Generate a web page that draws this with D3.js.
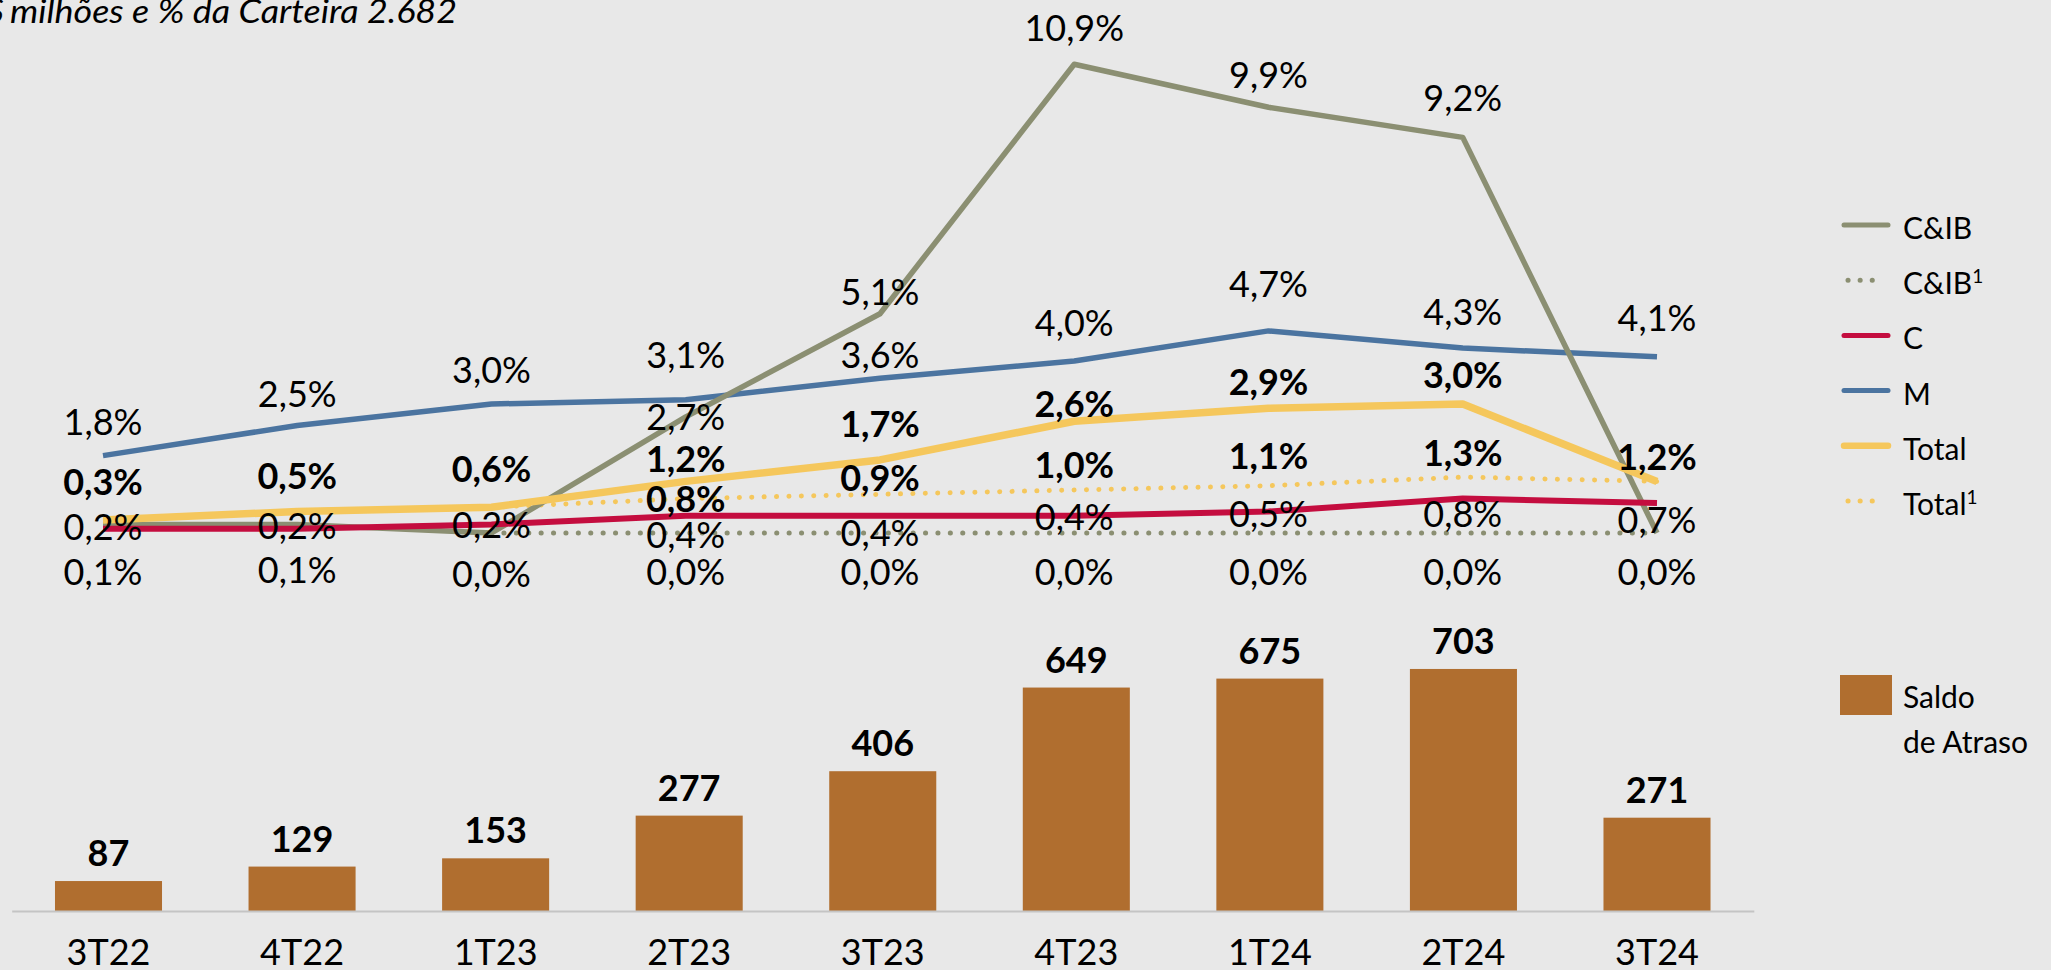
<!DOCTYPE html>

<head>
    <meta charset="utf-8">
    <style>
        body { margin: 0; background: #e8e8e8; }
        svg { display: block; }
        text { font-family: Lato, "Open Sans", sans-serif; fill: #000; }
    </style>
</head>

<body>
    <div id="graph"></div>
    <script src="https://d3js.org/d3.v7.min.js"></script>

    <script>
        // dimensions of the picture
        const WIDTH = 2051;
        const HEIGHT = 970;

        // data
        const categorias = ["3T22", "4T22", "1T23", "2T23", "3T23", "4T23", "1T24", "2T24", "3T24"];
        const saldoAtraso = [87, 129, 153, 277, 406, 649, 675, 703, 271];
        const cib = [0.2, 0.2, 0.0, 2.7, 5.1, 10.9, 9.9, 9.2, 0.0];
        const cib1 = [null, null, 0.0, 0.0, 0.0, 0.0, 0.0, 0.0, 0.0];
        const c = [0.1, 0.1, 0.2, 0.4, 0.4, 0.4, 0.5, 0.8, 0.7];
        const m = [1.8, 2.5, 3.0, 3.1, 3.6, 4.0, 4.7, 4.3, 4.1];
        const total = [0.3, 0.5, 0.6, 1.2, 1.7, 2.6, 2.9, 3.0, 1.2];
        const total1 = [null, null, 0.6, 0.8, 0.9, 1.0, 1.1, 1.3, 1.2];

        // label placement (baseline offset from the point, null = no label)
        const dyCib = [16, 15, 54, 13, -9, -23, -19, -26, null];
        const dyCib1 = [null, null, null, 52, 52, 52, 52, 52, 52];
        const dyC = [56, 54, 14, 32, 30, 14, 15, 28, 30];
        const dyM = [-21, -19, -21, -32, -10, -25, -34, -23, -26];
        const dyTotal = [-25, -23, -25, -9, -23, -4, -13, -16, null];
        const dyTotal1 = [null, null, null, 13, -3, -12, -17, -11, -11];

        const COR_CIB = "#8b8f72";
        const COR_C = "#c40d3f";
        const COR_M = "#4b74a0";
        const COR_TOTAL = "#f5c75c";
        const COR_BARRA = "#b06e2f";

        // series in drawing order
        const series = [
            { nome: "C&IB", sup: "1", valores: cib1, cor: COR_CIB, largura: 5, pontilhado: true, negrito: false, dy: dyCib1, leg: 1 },
            { nome: "Total", sup: "1", valores: total1, cor: COR_TOTAL, largura: 5, pontilhado: true, negrito: true, dy: dyTotal1, leg: 5 },
            { nome: "M", sup: "", valores: m, cor: COR_M, largura: 5.5, pontilhado: false, negrito: false, dy: dyM, leg: 3 },
            { nome: "C&IB", sup: "", valores: cib, cor: COR_CIB, largura: 5.5, pontilhado: false, negrito: false, dy: dyCib, leg: 0 },
            { nome: "C", sup: "", valores: c, cor: COR_C, largura: 6, pontilhado: false, negrito: false, dy: dyC, leg: 2 },
            { nome: "Total", sup: "", valores: total, cor: COR_TOTAL, largura: 7.5, pontilhado: false, negrito: true, dy: dyTotal, leg: 4 }
        ];

        const svg = d3.select("#graph")
            .append("svg")
            .attr("width", WIDTH)
            .attr("height", HEIGHT);

        // escalas
        const xBarra = d3.scaleBand()
            .domain(categorias)
            .range([11.7, 1753.8])
            .paddingInner(0.447)
            .paddingOuter(0.2236);

        const xLinha = d3.scalePoint()
            .domain(categorias)
            .range([103, 1657]);

        const yBarra = d3.scaleLinear()
            .domain([0, 800])
            .range([911, 911 - 800 * 0.3443]);

        const yPct = d3.scaleLinear()
            .domain([0, 12])
            .range([533, 533 - 12 * 43]);

        const fmtPct = v => d3.format(".1f")(v).replace(".", ",") + "%";

        // titulo (cortado à esquerda como no original)
        svg.append("text")
            .attr("x", 4)
            .attr("y", 23)
            .attr("text-anchor", "end")
            .attr("font-size", 32)
            .attr("font-style", "italic")
            .text("R$");
        svg.append("text")
            .attr("x", 10)
            .attr("y", 23)
            .attr("font-size", 32)
            .attr("font-style", "italic")
            .attr("textLength", 447)
            .attr("lengthAdjust", "spacingAndGlyphs")
            .text("milhões e % da Carteira 2.682");

        // barras
        svg.selectAll("rect.barra")
            .data(saldoAtraso)
            .enter()
            .append("rect")
            .attr("class", "barra")
            .attr("x", (d, i) => xBarra(categorias[i]))
            .attr("y", d => yBarra(d))
            .attr("width", xBarra.bandwidth())
            .attr("height", d => yBarra(0) - yBarra(d))
            .attr("fill", COR_BARRA);

        svg.selectAll("text.valorBarra")
            .data(saldoAtraso)
            .enter()
            .append("text")
            .attr("class", "valorBarra")
            .attr("x", (d, i) => xBarra(categorias[i]) + xBarra.bandwidth() / 2)
            .attr("y", d => yBarra(d) - 15)
            .attr("text-anchor", "middle")
            .attr("font-size", 36)
            .attr("font-weight", "bold")
            .text(d => d);

        // eixo x
        const eixo = svg.append("g")
            .attr("transform", `translate(0, ${yBarra(0)})`)
            .call(d3.axisBottom(xBarra).tickSize(0).tickSizeOuter(0).tickPadding(28.4));
        eixo.select(".domain").attr("stroke", "#c4c4c4").attr("stroke-width", 2);
        eixo.selectAll("text")
            .attr("font-size", 36)
            .attr("font-family", "Lato, 'Open Sans', sans-serif")
            .attr("fill", "#000");

        // linhas
        const linha = d3.line()
            .defined(d => d !== null)
            .x((d, i) => xLinha(categorias[i]))
            .y(d => yPct(d));

        series.forEach(s => {
            svg.append("path")
                .attr("d", linha(s.valores))
                .attr("fill", "none")
                .attr("stroke", s.cor)
                .attr("stroke-width", s.largura)
                .attr("stroke-linejoin", "round")
                .attr("stroke-linecap", s.pontilhado ? "round" : "butt")
                .attr("stroke-dasharray", s.pontilhado ? "0.1 12.3" : null);
        });

        // rótulos das linhas
        series.forEach(s => {
            s.valores.forEach((v, i) => {
                if (v === null || s.dy[i] === null) return;
                svg.append("text")
                    .attr("x", xLinha(categorias[i]))
                    .attr("y", yPct(v) + s.dy[i])
                    .attr("text-anchor", "middle")
                    .attr("font-size", 36)
                    .attr("font-weight", s.negrito ? "bold" : "normal")
                    .text(fmtPct(v));
            });
        });

        // legenda
        const legenda = svg.append("g");
        series.forEach(s => {
            const y = 225 + s.leg * 55.2;
            legenda.append("path")
                .attr("d", s.pontilhado ? `M1848,${y}H1873` : `M1844,${y}H1888`)
                .attr("stroke", s.cor)
                .attr("stroke-width", s.nome === "Total" && !s.pontilhado ? 6.5 : 5)
                .attr("stroke-linecap", "round")
                .attr("stroke-dasharray", s.pontilhado ? "0.1 12" : null);
            const t = legenda.append("text")
                .attr("x", 1903)
                .attr("y", y + 14)
                .attr("font-size", 30)
                .text(s.nome);
            if (s.sup) {
                t.append("tspan")
                    .attr("font-size", 19)
                    .attr("dy", -11)
                    .text(s.sup);
            }
        });

        legenda.append("rect")
            .attr("x", 1840)
            .attr("y", 675)
            .attr("width", 52)
            .attr("height", 40)
            .attr("fill", COR_BARRA);
        legenda.append("text")
            .attr("x", 1903)
            .attr("y", 708)
            .attr("font-size", 30)
            .text("Saldo");
        legenda.append("text")
            .attr("x", 1903)
            .attr("y", 753)
            .attr("font-size", 30)
            .text("de Atraso");
    </script>

</body>

</html>
